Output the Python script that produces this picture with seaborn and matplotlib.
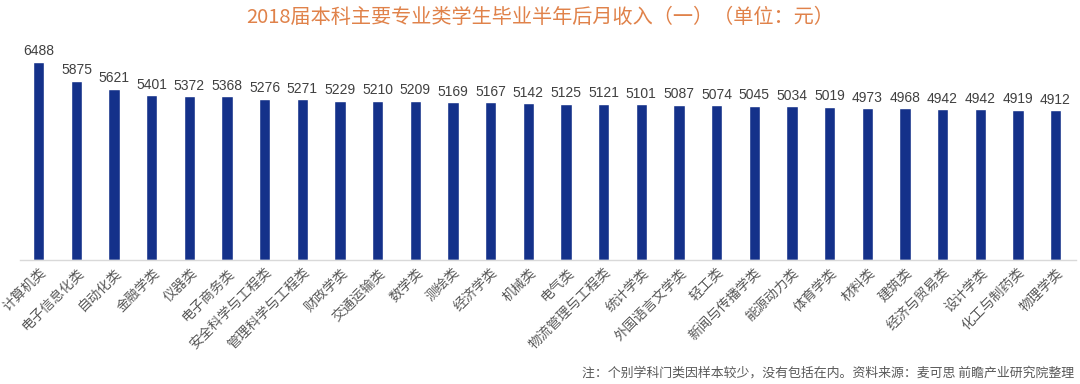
import matplotlib
matplotlib.use('Agg')
import matplotlib.pyplot as plt
import seaborn as sns
import pandas as pd

# === Data ===
majors = ['计算机类', '电子信息化类', '自动化类', '金融学类', '仪器类', '电子商务类',
          '安全科学与工程类', '管理科学与工程类', '财政学类', '交通运输类', '数学类',
          '测绘类', '经济学类', '机械类', '电气类', '物流管理与工程类', '统计学类',
          '外国语言文学类', '轻工类', '新闻与传播学类', '能源动力类', '体育学类',
          '材料类', '建筑类', '经济与贸易类', '设计学类', '化工与制药类', '物理学类']
income = [6488, 5875, 5621, 5401, 5372, 5368, 5276, 5271, 5229, 5210, 5209,
          5169, 5167, 5142, 5125, 5121, 5101, 5087, 5074, 5045, 5034, 5019,
          4973, 4968, 4942, 4942, 4919, 4912]

title = '2018届本科主要专业类学生毕业半年后月收入（一）（单位：元）'
note = '注：个别学科门类因样本较少，没有包括在内。资料来源：麦可思 前瞻产业研究院整理'

df = pd.DataFrame({'major': majors, 'income': income})

sns.set_theme(style='white')
plt.rcParams['font.family'] = ['Noto Sans CJK SC', 'DejaVu Sans']

fig = plt.figure(figsize=(10.8, 3.84), dpi=100, facecolor='white')
ax = fig.add_axes([0.0185, 0.323, 0.978, 0.573])

sns.barplot(data=df, x='major', y='income', color='#14318a', saturation=1,
            width=0.3, ax=ax)

for i, v in enumerate(income):
    ax.text(i, v + 120, str(v), ha='center', va='bottom', fontsize=10,
            color='#404040', family=['Liberation Sans', 'DejaVu Sans'])

ax.set_ylim(0, 7216)
ax.set_xlim(-0.5, len(majors) - 0.45)
ax.set_xlabel('')
ax.set_ylabel('')
ax.set_yticks([])
for s in ['top', 'right', 'left']:
    ax.spines[s].set_visible(False)
ax.spines['bottom'].set_color('#d9d9d9')
ax.spines['bottom'].set_linewidth(1)
ax.tick_params(axis='x', length=0, pad=4)
plt.setp(ax.get_xticklabels(), rotation=45, ha='right', rotation_mode='anchor',
         fontsize=9.8, color='#595959')

fig.text(0.5, 0.955, title, ha='center', va='center', fontsize=14.5, color='#e0824a')
fig.text(0.995, 0.028, note, ha='right', va='center', fontsize=9.3, color='#595959')

fig.savefig('out.png', dpi=100, facecolor='white')
